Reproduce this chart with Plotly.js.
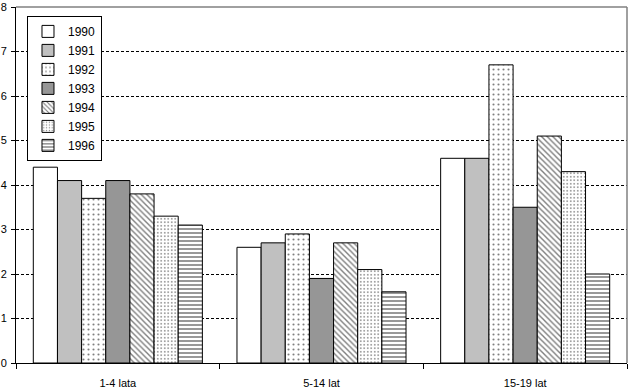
<!DOCTYPE html>
<html><head><meta charset="utf-8">
<script src="https://cdn.plot.ly/plotly-3.0.1.min.js"></script>
<style>html,body{margin:0;padding:0;background:#fff}</style>
</head><body>
<div id="chart" style="width:629px;height:391px"></div>
<script>
const categories = ["1-4 lata", "5-14 lat", "15-19 lat"];
const years = ["1990", "1991", "1992", "1993", "1994", "1995", "1996"];
const v1990 = [4.4, 2.6, 4.6];
const v1991 = [4.1, 2.7, 4.6];
const v1992 = [3.7, 2.9, 6.7];
const v1993 = [4.1, 1.9, 3.5];
const v1994 = [3.8, 2.7, 5.1];
const v1995 = [3.3, 2.1, 4.3];
const v1996 = [3.1, 1.6, 2.0];
const values = [v1990, v1991, v1992, v1993, v1994, v1995, v1996];
const yTicks = [0, 1, 2, 3, 4, 5, 6, 7, 8];

const styles = [
  {color: "#ffffff", pattern: {shape: ""}},
  {color: "#c0c0c0", pattern: {shape: ""}},
  {color: "#ffffff", pattern: {shape: ".", fgcolor: "#000", bgcolor: "#fff", size: 5, solidity: 0.14, fillmode: "overlay"}},
  {color: "#969696", pattern: {shape: ""}},
  {color: "#ffffff", pattern: {shape: "\\", fgcolor: "#000", bgcolor: "#fff", size: 4, solidity: 0.35, fillmode: "overlay"}},
  {color: "#ffffff", pattern: {shape: ".", fgcolor: "#000", bgcolor: "#fff", size: 3.5, solidity: 0.18, fillmode: "overlay"}},
  {color: "#ffffff", pattern: {shape: "-", fgcolor: "#000", bgcolor: "#fff", size: 4, solidity: 0.4, fillmode: "overlay"}}
];

const traces = years.map((y, i) => ({
  type: "bar",
  name: y,
  x: categories,
  y: values[i],
  marker: {color: styles[i].color, pattern: styles[i].pattern, line: {color: "#000", width: 1}}
}));

const layout = {
  width: 629, height: 391,
  margin: {l: 16, r: 2, t: 7, b: 28},
  paper_bgcolor: "#fff", plot_bgcolor: "#fff",
  font: {family: "Liberation Sans, Arial, sans-serif", size: 11, color: "#000"},
  barmode: "group",
  bargap: 0.17, bargroupgap: 0,
  showlegend: true,
  legend: {x: 0.018, y: 0.975, xanchor: "left", yanchor: "top",
           bordercolor: "#000", borderwidth: 1, bgcolor: "#fff",
           font: {size: 12}, itemwidth: 30, tracegroupgap: 0},
  xaxis: {type: "category", tickson: "boundaries", ticks: "outside", ticklen: 5,
          tickcolor: "#000", showline: true, linecolor: "#000", linewidth: 1,
          showgrid: false, zeroline: false, tickfont: {size: 11}, ticklabelstandoff: 10},
  yaxis: {range: [0, 8], tickvals: yTicks, ticks: "outside", ticklen: 4, tickcolor: "#000",
          showline: true, linecolor: "#000", linewidth: 1,
          showgrid: true, gridcolor: "#000", gridwidth: 1, griddash: "3px,2px",
          zeroline: false, tickfont: {size: 11}, ticklabelstandoff: 2,
          ticklabeloverflow: "allow"},
  shapes: [
    {type: "line", xref: "paper", yref: "paper", x0: 0, x1: 1, y0: 1, y1: 1, line: {color: "#808080", width: 1.5}},
    {type: "line", xref: "paper", yref: "paper", x0: 1, x1: 1, y0: 0, y1: 1, line: {color: "#808080", width: 1.5}}
  ]
};

Plotly.newPlot("chart", traces, layout, {displayModeBar: false, staticPlot: true});
</script>
</body></html>
